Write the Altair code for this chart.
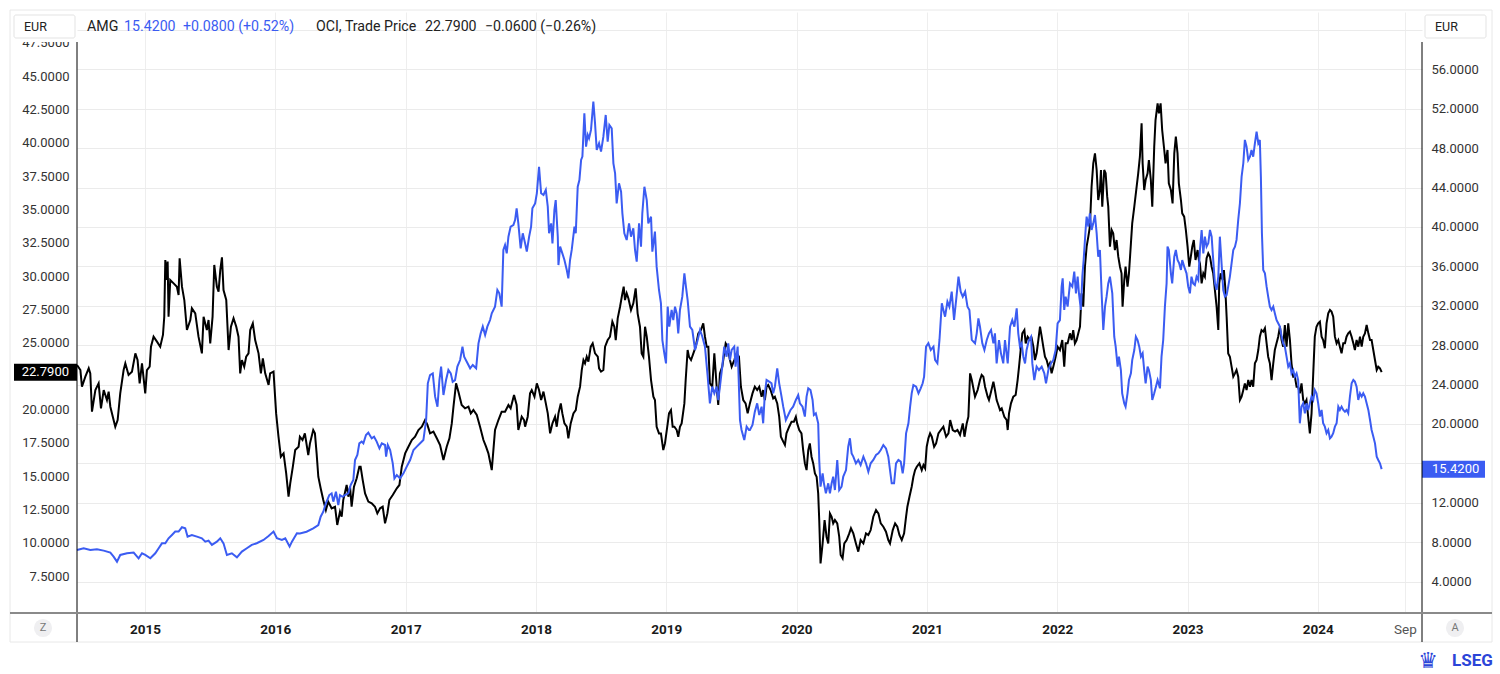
import altair as alt
import pandas as pd

FONT = "Roboto"
BLUE = "#3b5cf2"
INK = "#222222"

# ---- data (decimal year, price) ----
OCI_POINTS = [
(2014.478,23.33),(2014.504,22.95),(2014.516,21.70),(2014.542,22.45),(2014.568,23.08),(2014.580,22.70),(2014.593,19.83),(2014.619,21.45),(2014.644,21.95),(2014.662,20.08),(2014.683,21.45),(2014.708,20.70),(2014.721,21.33),(2014.734,20.20),(2014.759,19.20),(2014.772,18.70),(2014.790,19.20),(2014.810,21.20),(2014.836,22.95),(2014.849,23.45),(2014.874,22.58),(2014.900,22.83),(2014.926,24.20),(2014.943,23.70),(2014.959,21.95),(2014.977,23.45),(2015.002,21.20),(2015.015,22.95),(2015.036,23.20),(2015.046,24.70),(2015.066,25.45),(2015.092,25.08),(2015.117,24.70),(2015.138,25.58),(2015.148,26.95),(2015.156,31.20),(2015.169,29.70),(2015.174,31.08),(2015.181,26.95),(2015.194,29.70),(2015.220,29.45),(2015.245,29.20),(2015.258,28.58),(2015.266,31.33),(2015.284,29.20),(2015.302,28.20),(2015.322,25.95),(2015.348,26.70),(2015.360,27.58),(2015.386,27.20),(2015.411,25.45),(2015.437,24.20),(2015.450,26.95),(2015.475,25.95),(2015.488,26.70),(2015.501,24.95),(2015.519,26.95),(2015.532,30.83),(2015.552,29.20),(2015.565,28.83),(2015.578,30.45),(2015.591,31.40),(2015.603,28.95),(2015.624,28.20),(2015.642,24.45),(2015.660,26.20),(2015.680,26.83),(2015.701,26.20),(2015.718,25.45),(2015.731,22.70),(2015.744,23.70),(2015.762,23.20),(2015.777,23.95),(2015.795,24.20),(2015.808,25.95),(2015.828,26.45),(2015.846,25.20),(2015.872,24.20),(2015.890,22.70),(2015.905,23.83),(2015.923,22.70),(2015.949,21.83),(2015.961,22.70),(2015.987,22.83),(2016.007,19.70),(2016.025,17.95),(2016.043,16.45),(2016.064,16.70),(2016.084,15.20),(2016.102,13.45),(2016.115,14.45),(2016.135,15.70),(2016.153,16.95),(2016.179,17.20),
(2016.189,17.95),(2016.209,17.70),(2016.227,18.20),(2016.253,16.58),(2016.266,17.45),(2016.291,18.45),(2016.304,18.20),(2016.317,16.70),(2016.330,14.95),(2016.348,14.08),(2016.368,13.20),(2016.388,12.45),(2016.406,13.08),(2016.432,12.58),(2016.458,12.70),(2016.475,11.33),(2016.496,12.33),(2016.509,11.95),(2016.521,13.20),(2016.547,14.33),(2016.560,13.45),(2016.573,14.20),(2016.585,12.70),(2016.603,14.20),(2016.624,14.83),(2016.644,15.70),(2016.654,15.70),(2016.670,14.70),(2016.688,13.70),(2016.713,13.08),(2016.739,12.95),(2016.764,12.70),(2016.782,12.20),(2016.803,12.58),(2016.823,12.70),(2016.841,11.45),(2016.859,12.20),(2016.874,13.20),(2016.900,13.58),(2016.931,14.08),(2016.951,14.33),(2016.969,15.70),(2016.995,16.70),(2017.020,17.20),(2017.046,17.70),(2017.071,17.95),(2017.097,18.45),(2017.123,18.70),(2017.148,19.20),(2017.166,18.83),(2017.186,18.20),(2017.212,18.33),(2017.238,17.83),(2017.263,17.33),(2017.289,16.20),(2017.314,17.20),(2017.335,17.83),(2017.353,18.95),(2017.366,20.20),(2017.386,21.95),(2017.404,21.33),(2017.429,20.33),(2017.455,20.08),(2017.481,20.20),(2017.499,19.70),(2017.519,19.95),(2017.545,19.58),(2017.570,18.70),(2017.596,17.70),(2017.616,17.20),(2017.634,16.70),(2017.660,15.45),(2017.685,18.45),(2017.711,19.20),(2017.736,19.83),(2017.762,19.83),(2017.788,20.33),(2017.805,20.08),(2017.831,21.08),(2017.851,20.33),(2017.864,18.45),(2017.890,19.45),(2017.908,19.20),
(2017.916,18.70),(2017.936,19.45),(2017.954,21.20),(2017.967,21.45),(2017.988,20.95),(2018.006,21.95),(2018.023,21.45),(2018.039,20.70),(2018.057,21.33),(2018.075,20.45),(2018.090,19.70),(2018.108,18.20),(2018.126,18.95),(2018.146,19.45),(2018.159,18.70),(2018.172,19.70),(2018.190,20.45),(2018.202,19.70),(2018.218,18.95),(2018.236,18.70),(2018.248,17.83),(2018.266,18.95),(2018.287,19.70),(2018.305,19.95),(2018.320,20.95),(2018.338,21.70),(2018.351,22.95),(2018.364,23.70),(2018.376,23.45),(2018.389,23.95),(2018.402,23.58),(2018.420,24.70),(2018.435,24.95),(2018.453,24.20),(2018.474,23.95),(2018.484,23.08),(2018.499,22.83),(2018.517,22.95),(2018.530,24.70),(2018.550,25.20),(2018.568,25.45),(2018.586,26.58),(2018.601,26.20),(2018.612,25.20),(2018.627,26.83),(2018.645,27.70),(2018.663,28.70),(2018.673,29.20),(2018.683,28.20),(2018.696,28.70),(2018.709,28.33),(2018.729,27.45),(2018.747,27.95),(2018.765,29.08),(2018.780,27.20),(2018.798,26.20),(2018.811,24.20),(2018.824,23.95),(2018.837,26.20),(2018.850,25.45),(2018.867,23.95),(2018.883,22.20),(2018.901,20.95),(2018.913,20.70),(2018.926,18.70),(2018.944,18.20),(2018.959,18.20),(2018.977,16.95),(2018.990,17.45),(2019.011,18.95),(2019.021,19.70),(2019.036,19.95),(2019.049,18.70),(2019.062,18.70),(2019.080,18.45),(2019.092,17.95),(2019.105,18.70),(2019.118,18.95),(2019.139,20.45),(2019.149,22.20),(2019.164,24.45),(2019.174,23.95),(2019.190,23.70),(2019.208,24.20),(2019.226,24.70),(2019.246,25.70),(2019.266,25.95),(2019.284,26.45),(2019.297,25.45),(2019.310,24.70),(2019.323,24.70),(2019.335,21.95),(2019.353,21.70),(2019.369,24.20),(2019.387,21.70),(2019.399,20.33),(2019.412,22.70),(2019.430,23.20),(2019.445,24.20),(2019.456,24.95),(2019.471,24.70),(2019.489,23.70),(2019.502,23.20),(2019.522,23.70),(2019.540,24.20),(2019.558,23.95),(2019.573,21.70),(2019.591,20.70),(2019.609,20.45),(2019.625,19.70),
(2019.642,20.45),(2019.662,21.20),(2019.680,21.70),(2019.698,21.45),(2019.714,21.70),(2019.732,20.95),(2019.744,21.45),(2019.757,20.70),(2019.770,21.70),(2019.783,21.83),(2019.801,21.45),(2019.821,20.83),(2019.834,20.95),(2019.852,20.45),(2019.867,19.45),(2019.880,17.95),(2019.898,17.58),(2019.911,17.33),(2019.923,18.20),(2019.944,18.70),(2019.962,19.08),(2019.980,19.08),(2019.995,19.45),(2020.005,18.95),(2020.021,18.45),(2020.038,18.20),(2020.051,16.95),(2020.064,15.95),(2020.077,15.45),(2020.090,16.95),(2020.102,17.45),(2020.115,16.45),(2020.128,15.95),(2020.141,15.20),(2020.154,14.95),(2020.166,13.70),(2020.174,11.70),(2020.184,8.45),(2020.200,9.95),(2020.215,11.70),(2020.230,10.45),(2020.243,9.95),(2020.256,12.20),(2020.269,11.95),(2020.281,11.45),(2020.294,11.70),(2020.312,11.45),(2020.327,10.45),(2020.338,9.08),(2020.353,8.83),(2020.366,9.95),(2020.384,10.20),(2020.404,10.70),(2020.417,11.08),(2020.435,10.70),(2020.455,9.95),(2020.473,9.33),(2020.491,10.20),(2020.512,9.95),(2020.532,10.70),(2020.550,10.58),(2020.568,10.95),(2020.588,11.95),(2020.609,12.45),(2020.627,12.20),(2020.645,11.45),(2020.665,11.20),(2020.685,10.83),(2020.703,10.20),(2020.716,9.95),(2020.737,10.95),(2020.755,11.45),(2020.772,11.20),(2020.788,10.58),(2020.806,10.20),(2020.824,10.70),(2020.839,11.95),(2020.849,12.70),(2020.865,13.45),(2020.882,14.20),(2020.895,14.95),(2020.908,15.45),(2020.921,15.70),(2020.941,15.95),(2020.959,15.45),(2020.972,15.83),(2020.985,15.58),(2020.997,17.20),(2021.010,17.83),(2021.023,18.20),(2021.036,17.95),(2021.054,17.20),(2021.069,17.45),(2021.087,18.20),(2021.105,18.45),(2021.125,18.70),(2021.146,17.95),(2021.164,18.20),(2021.177,19.20),(2021.197,18.45),(2021.215,18.33),(2021.233,18.45),(2021.253,18.08),(2021.274,18.95),(2021.287,17.95),(2021.304,18.95),(2021.317,19.45),(2021.330,22.70),(2021.343,22.20),
(2021.368,20.95),(2021.388,21.45),(2021.406,22.20),(2021.419,22.58),(2021.432,22.45),(2021.445,21.70),(2021.465,20.95),(2021.475,20.70),(2021.491,21.33),(2021.509,22.08),(2021.521,21.45),(2021.534,20.70),(2021.547,20.33),(2021.560,19.95),(2021.573,20.08),(2021.593,19.45),(2021.611,19.20),(2021.619,18.45),(2021.629,19.70),(2021.644,20.45),(2021.662,20.95),(2021.680,21.08),(2021.695,22.20),(2021.706,23.20),(2021.721,24.70),(2021.731,25.70),(2021.747,25.95),(2021.757,24.95),(2021.772,25.45),(2021.790,25.20),(2021.803,25.33),(2021.816,24.70),(2021.828,23.70),(2021.841,24.20),(2021.854,25.20),(2021.867,26.20),(2021.880,25.45),(2021.892,24.70),(2021.905,23.95),(2021.918,23.70),(2021.931,23.20),(2021.943,23.45),(2021.956,22.70),(2021.969,23.20),(2021.987,23.95),(2022.002,24.70),(2022.020,24.45),(2022.038,25.20),(2022.053,23.20),(2022.064,24.95),(2022.079,24.95),(2022.097,25.70),(2022.110,25.20),(2022.122,25.95),(2022.135,24.95),(2022.148,25.20),(2022.161,25.70),(2022.174,26.20),(2022.186,28.70),(2022.199,27.70),(2022.212,30.70),(2022.225,32.20),(2022.238,32.95),(2022.250,33.70),(2022.263,36.70),(2022.276,38.45),(2022.289,39.20),(2022.302,37.95),(2022.314,35.70),(2022.327,36.45),(2022.335,37.95),(2022.345,35.20),(2022.360,37.95),(2022.371,37.70),(2022.383,35.95),(2022.391,35.20),(2022.404,32.20),(2022.417,33.45),(2022.429,33.20),(2022.442,31.95),(2022.455,32.70),(2022.468,31.45),(2022.481,30.70),(2022.493,30.20),(2022.501,27.70),(2022.514,29.70),(2022.524,30.70),(2022.539,29.20),(2022.550,30.20),(2022.565,32.45),(2022.575,33.95),(2022.591,35.20),(2022.609,36.70),(2022.621,37.70),(2022.634,38.95),(2022.647,41.45),(2022.655,38.45),(2022.667,36.45),(2022.678,37.20),(2022.693,37.70),(2022.703,38.70),(2022.718,37.20),(2022.729,35.20),(2022.744,39.70),(2022.754,41.70),(2022.770,42.95),(2022.780,42.20),(2022.793,42.95),(2022.805,40.95),(2022.821,39.45),(2022.831,38.45),(2022.846,39.45),(2022.856,36.95),(2022.872,36.45),(2022.885,35.45),(2022.898,39.20),(2022.910,40.45),(2022.923,39.20),(2022.933,36.95),(2022.949,35.70),(2022.959,34.70),(2022.974,34.45),(2022.987,33.45),(2023.000,32.20),(2023.013,30.70),(2023.025,31.45),(2023.036,32.20),(2023.048,32.70),(2023.061,31.20),(2023.077,31.95),(2023.087,31.20),
(2023.095,30.95),(2023.108,29.45),(2023.121,30.20),(2023.133,29.95),(2023.146,31.33),(2023.159,31.70),(2023.172,31.45),(2023.185,30.70),(2023.197,30.20),(2023.210,28.95),(2023.223,27.70),(2023.236,25.95),(2023.243,29.45),(2023.254,30.20),(2023.269,29.70),(2023.279,30.45),(2023.289,29.20),(2023.300,26.95),(2023.312,24.20),(2023.325,23.95),(2023.338,23.20),(2023.351,22.45),(2023.364,22.70),(2023.376,22.95),(2023.389,22.45),(2023.402,20.70),(2023.415,20.95),(2023.428,21.45),(2023.440,21.95),(2023.453,21.45),(2023.466,22.20),(2023.479,21.70),(2023.491,22.20),(2023.504,21.70),(2023.517,23.45),(2023.530,23.70),(2023.543,24.45),(2023.555,25.45),(2023.568,25.95),(2023.581,25.83),(2023.594,26.08),(2023.607,24.95),(2023.619,23.95),(2023.632,23.45),(2023.645,22.20),(2023.658,23.45),(2023.670,24.45),(2023.683,24.95),(2023.696,25.45),(2023.709,26.20),(2023.722,25.20),(2023.734,24.70),(2023.747,26.33),(2023.760,24.70),(2023.773,26.45),(2023.786,25.20),(2023.798,23.45),(2023.811,22.45),(2023.824,22.45),(2023.837,21.70),(2023.849,21.70),(2023.862,21.20),(2023.875,21.95),(2023.888,20.70),(2023.901,20.45),(2023.913,20.70),(2023.926,19.45),(2023.939,18.20),(2023.952,19.70),(2023.965,22.70),(2023.977,25.45),(2023.990,26.20),(2024.003,26.45),(2024.016,26.58),(2024.029,25.45),(2024.041,25.20),(2024.054,24.58),(2024.067,26.45),(2024.080,27.20),(2024.093,27.45),(2024.105,27.33),(2024.118,26.95),(2024.131,25.45),(2024.144,24.95),(2024.157,25.20),(2024.169,24.70),(2024.182,24.20),(2024.195,24.95),(2024.208,24.95),(2024.220,25.45),(2024.233,25.70),(2024.246,25.83),(2024.259,25.45),(2024.272,24.95),(2024.284,24.45),(2024.297,25.20),(2024.310,24.70),(2024.323,25.45),(2024.336,24.70),(2024.348,25.45),(2024.361,25.70),(2024.374,26.33),(2024.387,25.70),(2024.400,25.20),(2024.412,25.20),(2024.425,24.45),(2024.438,23.70),(2024.451,22.95),(2024.463,23.20),(2024.476,23.08),(2024.489,22.79),
]

AMG_POINTS = [
(2014.478,7.22),(2014.529,7.39),(2014.580,7.22),(2014.631,7.29),(2014.683,7.15),(2014.734,6.95),(2014.759,6.54),(2014.785,6.03),(2014.810,6.71),(2014.862,6.88),(2014.913,6.95),(2014.951,6.37),(2014.977,6.88),(2015.002,6.71),(2015.041,6.37),(2015.079,6.88),(2015.105,7.39),(2015.130,7.89),(2015.156,7.89),(2015.181,8.40),(2015.207,8.74),(2015.232,9.08),(2015.258,9.08),(2015.284,9.52),(2015.309,9.42),(2015.327,8.57),(2015.360,8.74),(2015.399,8.57),(2015.437,8.40),(2015.463,8.06),(2015.488,8.17),(2015.514,7.73),(2015.552,8.06),(2015.578,8.40),(2015.603,7.89),(2015.629,6.71),(2015.667,6.88),(2015.706,6.47),(2015.744,7.05),(2015.782,7.39),(2015.820,7.73),(2015.858,7.90),(2015.910,8.23),(2015.949,8.64),(2015.987,9.08),(2016.013,8.40),(2016.051,8.23),(2016.077,8.40),(2016.110,7.56),(2016.128,8.06),(2016.166,8.91),
(2016.189,8.90),(2016.240,9.07),(2016.291,9.41),(2016.330,9.75),(2016.348,10.59),(2016.368,11.10),(2016.388,11.95),(2016.414,12.79),(2016.432,12.96),(2016.445,12.12),(2016.465,13.13),(2016.483,11.78),(2016.496,12.79),(2016.516,12.62),(2016.534,12.79),(2016.560,12.96),(2016.578,13.81),(2016.598,14.31),(2016.611,16.34),(2016.629,16.85),(2016.644,18.04),(2016.662,18.21),(2016.675,18.04),(2016.695,18.88),(2016.713,19.12),(2016.739,18.54),(2016.757,18.71),(2016.777,18.21),(2016.798,17.53),(2016.816,18.04),(2016.841,17.87),(2016.849,16.68),(2016.862,17.87),(2016.880,17.36),(2016.900,16.01),(2016.913,14.48),(2016.931,14.82),(2016.956,14.48),(2016.982,14.99),(2017.007,15.67),(2017.033,16.34),(2017.059,17.36),(2017.084,17.70),(2017.110,18.04),(2017.135,18.37),(2017.156,20.40),(2017.169,24.13),(2017.186,24.97),(2017.207,25.14),(2017.225,22.77),(2017.243,21.76),(2017.258,24.46),(2017.271,25.82),(2017.289,22.94),(2017.309,24.46),(2017.327,25.48),(2017.345,25.14),(2017.360,24.29),(2017.378,24.46),(2017.396,25.82),(2017.417,26.49),(2017.435,27.85),(2017.448,26.83),(2017.468,26.32),(2017.494,25.65),(2017.514,25.99),(2017.540,25.65),(2017.558,28.18),(2017.575,29.20),(2017.591,29.88),(2017.609,29.03),(2017.626,29.88),(2017.647,30.55),(2017.660,31.23),(2017.685,31.91),(2017.703,33.60),(2017.718,33.26),(2017.736,31.91),(2017.749,37.66),(2017.762,38.16),(2017.775,37.32),(2017.788,39.01),(2017.805,40.03),(2017.826,40.19),(2017.839,40.70),(2017.851,41.89),(2017.864,40.36),(2017.882,37.83),(2017.898,39.35),
(2017.916,38.33),(2017.929,37.49),(2017.947,39.01),(2017.962,40.03),(2017.972,41.89),(2017.993,42.39),(2018.006,43.41),(2018.023,46.11),(2018.039,43.41),(2018.057,43.24),(2018.075,43.75),(2018.090,42.06),(2018.100,39.35),(2018.116,40.36),(2018.126,38.33),(2018.141,41.72),(2018.151,42.73),(2018.167,39.01),(2018.172,36.13),(2018.185,38.00),(2018.202,37.32),(2018.218,36.64),(2018.236,35.63),(2018.248,34.78),(2018.261,36.64),(2018.274,37.66),(2018.295,40.03),(2018.305,39.35),(2018.320,44.08),(2018.333,44.76),(2018.346,46.79),(2018.356,47.13),(2018.371,51.53),(2018.384,48.15),(2018.397,49.33),(2018.407,48.99),(2018.422,49.84),(2018.440,52.71),(2018.453,50.51),(2018.466,47.81),(2018.484,48.48),(2018.499,47.64),(2018.517,49.16),(2018.535,51.36),(2018.550,48.65),(2018.563,50.34),(2018.581,50.00),(2018.594,46.45),(2018.607,45.44),(2018.619,42.39),(2018.637,44.42),(2018.653,43.58),(2018.663,41.38),(2018.678,39.35),(2018.696,38.67),(2018.714,40.36),(2018.729,39.01),(2018.747,39.86),(2018.760,37.66),(2018.773,36.47),(2018.791,40.36),(2018.806,38.00),(2018.816,41.38),(2018.832,44.08),(2018.850,42.73),(2018.862,40.36),(2018.883,41.04),(2018.893,37.49),(2018.913,39.52),(2018.926,35.97),(2018.944,33.60),(2018.959,32.24),(2018.970,28.52),(2018.985,27.17),(2018.998,26.15),(2019.011,31.91),(2019.023,29.88),(2019.041,31.57),(2019.054,30.55),(2019.067,31.91),(2019.080,31.23),(2019.092,29.20),(2019.105,31.57),(2019.123,32.92),(2019.139,35.29),(2019.151,33.94),(2019.164,32.58),(2019.182,29.88),(2019.200,29.54),(2019.221,27.51),(2019.241,28.52),(2019.259,29.54),(2019.277,28.86),(2019.297,27.85),(2019.318,24.80),(2019.335,22.09),(2019.353,23.79),(2019.369,23.11),(2019.387,23.79),(2019.399,22.43),(2019.412,23.79),(2019.430,25.82),(2019.445,27.85),(2019.463,26.83),(2019.476,28.18),(2019.489,26.49),(2019.502,27.51),(2019.522,27.85),(2019.532,25.82),(2019.548,27.85),(2019.566,20.40),(2019.578,19.39),(2019.599,18.37),(2019.617,19.73),(2019.635,19.39),
(2019.642,19.39),(2019.662,19.90),(2019.680,21.25),(2019.698,22.10),(2019.714,20.91),(2019.732,21.76),(2019.744,20.07),(2019.757,23.11),(2019.770,24.47),(2019.790,24.30),(2019.808,24.13),(2019.821,23.11),(2019.834,23.79),(2019.852,25.65),(2019.867,24.13),(2019.885,22.78),(2019.898,21.76),(2019.918,20.41),(2019.936,20.91),(2019.954,21.42),(2019.974,21.76),(2019.995,22.44),(2020.013,22.94),(2020.026,22.10),(2020.046,21.76),(2020.064,20.75),(2020.077,22.78),(2020.090,23.62),(2020.107,23.45),(2020.123,22.44),(2020.133,20.91),(2020.148,21.08),(2020.166,20.07),(2020.174,16.35),(2020.184,13.64),(2020.200,14.99),(2020.210,13.98),(2020.225,12.96),(2020.243,13.98),(2020.256,12.96),(2020.269,13.98),(2020.281,14.66),(2020.294,13.30),(2020.312,16.35),(2020.327,13.30),(2020.345,13.64),(2020.358,14.66),(2020.379,15.33),(2020.396,17.70),(2020.409,18.55),(2020.422,17.02),(2020.435,16.69),(2020.455,16.01),(2020.473,16.35),(2020.491,15.84),(2020.512,16.69),(2020.532,16.01),(2020.550,15.16),(2020.568,16.01),(2020.588,16.35),(2020.609,16.86),(2020.627,17.02),(2020.645,17.36),(2020.665,17.87),(2020.685,17.53),(2020.703,16.69),(2020.716,15.33),(2020.729,13.98),(2020.747,13.98),(2020.762,16.01),(2020.780,16.35),(2020.798,16.18),(2020.813,14.99),(2020.824,16.01),(2020.839,19.05),(2020.857,20.07),(2020.870,21.76),(2020.882,23.11),(2020.895,23.96),(2020.916,23.79),(2020.934,23.11),(2020.951,23.62),(2020.966,24.13),(2020.977,24.81),(2020.992,27.85),(2021.010,28.19),(2021.028,27.51),(2021.049,27.85),(2021.061,26.50),(2021.079,26.16),(2021.095,28.53),(2021.113,32.25),(2021.125,31.57),(2021.138,30.89),(2021.156,32.42),(2021.171,31.91),(2021.189,33.43),(2021.207,30.56),(2021.223,32.59),(2021.241,34.95),(2021.258,33.43),(2021.274,32.92),(2021.292,33.43),(2021.310,31.91),(2021.325,31.57),(2021.343,28.53),
(2021.368,28.18),(2021.381,29.20),(2021.394,30.72),(2021.406,29.88),(2021.424,28.18),(2021.440,27.51),(2021.458,28.52),(2021.475,29.20),(2021.491,29.54),(2021.509,28.18),(2021.521,29.20),(2021.534,26.15),(2021.552,28.52),(2021.567,27.17),(2021.585,26.15),(2021.598,28.52),(2021.619,26.15),(2021.637,29.88),(2021.654,30.55),(2021.670,29.88),(2021.688,31.74),(2021.700,29.20),(2021.713,27.85),(2021.726,28.18),(2021.739,26.83),(2021.752,26.15),(2021.764,27.51),(2021.782,28.52),(2021.798,28.86),(2021.808,26.15),(2021.823,24.46),(2021.841,25.82),(2021.859,25.48),(2021.880,25.82),(2021.900,25.14),(2021.913,24.13),(2021.931,25.48),(2021.951,26.15),(2021.969,26.49),(2021.987,27.51),(2022.002,30.21),(2022.020,30.55),(2022.033,33.94),(2022.041,34.78),(2022.053,31.57),(2022.064,32.92),(2022.079,31.91),(2022.097,34.27),(2022.115,33.94),(2022.130,35.46),(2022.143,33.26),(2022.156,34.95),(2022.166,33.26),(2022.181,31.57),(2022.192,34.95),(2022.202,36.64),(2022.217,39.69),(2022.225,41.04),(2022.238,40.03),(2022.250,41.38),(2022.263,39.69),(2022.276,40.36),(2022.289,41.21),(2022.302,39.35),(2022.314,36.98),(2022.327,37.66),(2022.340,33.26),(2022.353,29.54),(2022.366,31.91),(2022.378,32.92),(2022.391,34.27),(2022.404,34.95),(2022.422,33.26),(2022.437,28.86),(2022.448,27.85),(2022.463,25.82),(2022.473,26.83),(2022.488,25.48),(2022.498,23.11),(2022.514,22.09),(2022.524,21.76),(2022.539,23.11),(2022.550,24.46),(2022.565,25.14),(2022.575,26.49),(2022.591,27.51),(2022.603,28.86),(2022.616,28.52),(2022.629,27.85),(2022.642,26.83),(2022.655,27.17),(2022.667,25.48),(2022.678,24.13),(2022.693,25.82),(2022.703,25.48),(2022.718,24.46),(2022.729,22.43),(2022.744,23.11),(2022.757,23.79),(2022.770,24.46),(2022.788,23.62),(2022.800,26.83),(2022.813,28.52),(2022.826,31.91),(2022.839,34.27),(2022.846,38.00),(2022.856,37.66),(2022.872,35.29),(2022.882,34.27),(2022.898,36.98),(2022.910,37.66),(2022.923,36.64),(2022.936,36.30),(2022.949,35.63),(2022.959,36.64),(2022.974,35.97),(2022.992,35.29),(2023.005,33.94),(2023.018,33.26),(2023.030,34.95),(2023.043,34.27),(2023.056,34.10),(2023.069,34.95),(2023.082,34.61),
(2023.095,37.66),(2023.108,39.69),(2023.121,37.32),(2023.133,39.01),(2023.146,38.00),(2023.159,38.34),(2023.172,39.69),(2023.185,39.01),(2023.197,36.65),(2023.210,34.28),(2023.223,33.60),(2023.236,34.96),(2023.248,39.01),(2023.261,36.31),(2023.274,33.60),(2023.287,32.93),(2023.300,33.10),(2023.312,33.94),(2023.325,34.96),(2023.338,36.31),(2023.351,37.66),(2023.364,38.00),(2023.376,38.68),(2023.389,40.71),(2023.402,42.40),(2023.415,45.10),(2023.428,46.46),(2023.440,48.83),(2023.453,48.15),(2023.466,46.80),(2023.479,47.13),(2023.491,47.81),(2023.504,47.13),(2023.517,48.49),(2023.530,49.67),(2023.543,48.49),(2023.555,48.83),(2023.563,45.10),(2023.571,39.35),(2023.581,35.63),(2023.594,35.29),(2023.607,33.94),(2023.619,32.93),(2023.632,31.91),(2023.645,31.57),(2023.658,31.91),(2023.670,31.23),(2023.683,30.56),(2023.696,30.22),(2023.709,29.88),(2023.722,28.87),(2023.734,28.19),(2023.747,27.85),(2023.760,26.84),(2023.773,25.82),(2023.786,26.16),(2023.798,25.14),(2023.811,25.48),(2023.824,24.81),(2023.837,25.14),(2023.849,24.47),(2023.862,20.07),(2023.875,21.76),(2023.888,22.10),(2023.901,21.09),(2023.913,22.10),(2023.926,21.43),(2023.939,22.10),(2023.952,22.78),(2023.965,22.44),(2023.977,23.45),(2023.990,23.11),(2024.003,22.10),(2024.016,20.75),(2024.029,21.43),(2024.041,20.07),(2024.054,19.73),(2024.067,19.06),(2024.080,19.39),(2024.093,18.55),(2024.105,18.72),(2024.118,19.06),(2024.131,19.73),(2024.144,20.07),(2024.157,21.76),(2024.169,21.43),(2024.182,21.76),(2024.195,21.43),(2024.208,21.25),(2024.220,21.43),(2024.233,21.09),(2024.246,22.78),(2024.259,24.13),(2024.272,24.47),(2024.284,24.30),(2024.297,23.79),(2024.310,22.44),(2024.323,23.11),(2024.336,22.78),(2024.348,23.11),(2024.361,22.78),(2024.374,22.10),(2024.387,21.43),(2024.400,20.41),(2024.412,19.39),(2024.425,18.72),(2024.438,18.04),(2024.451,16.69),(2024.463,16.35),(2024.476,16.01),(2024.489,15.42),
]

OCI_LAST, OCI_CHG, OCI_PCT = 22.79, -0.06, -0.26
AMG_LAST, AMG_CHG, AMG_PCT = 15.42, 0.08, 0.52
LEFT_TICKS = [7.5 + 2.5 * i for i in range(17)]
RIGHT_TICKS = [4 * i for i in range(1, 16)]
YEAR_TICKS = list(range(2015, 2025))
X_RANGE_YEARS = [2014.478, 2024.798]
OCI_DOMAIN = [4.73, 49.80]
AMG_DOMAIN = [0.82, 61.81]


def to_ts(y):
    yi = int(y)
    a = pd.Timestamp(year=yi, month=1, day=1)
    b = pd.Timestamp(year=yi + 1, month=1, day=1)
    return a + (b - a) * (y - yi)


def to_dt(ts):
    return alt.DateTime(year=ts.year, month=ts.month, date=ts.day, hours=ts.hour)


def frame(points):
    return pd.DataFrame({
        "date": [to_ts(p[0]).strftime("%Y-%m-%dT%H:%M:%S") for p in points],
        "v": [p[1] for p in points],
    })


oci_df = frame(OCI_POINTS)
amg_df = frame(AMG_POINTS)
oci_last = pd.DataFrame({"v": [OCI_LAST]})
amg_last = pd.DataFrame({"v": [AMG_LAST]})
one = pd.DataFrame({"k": [0]})

is_year = "month(datum.value) == 0"
x_axis = alt.Axis(
    values=[alt.DateTime(year=y, month=1, date=1) for y in YEAR_TICKS] + [alt.DateTime(year=2024, month=9, date=1)],
    labelExpr="month(datum.value) == 0 ? timeFormat(datum.value, '%Y') : timeFormat(datum.value, '%b')",
    labelFontWeight={"condition": {"test": is_year, "value": "bold"}, "value": "normal"},
    labelColor={"condition": {"test": is_year, "value": "#1a1a1a"}, "value": "#555555"},
    labelFont=FONT, labelFontSize=13.5, labelPadding=9, labelFlush=False, labelOverlap=False,
    grid=True, gridColor="#eeeeee", domain=False, ticks=False, title=None,
)
x_enc = alt.X("date:T", scale=alt.Scale(domain=[to_dt(to_ts(X_RANGE_YEARS[0])), to_dt(to_ts(X_RANGE_YEARS[1]))]), axis=x_axis, title=None)

# labels hidden behind the last-value boxes (as in the reference)
left_axis = alt.Axis(orient="left", values=LEFT_TICKS,
                     labelExpr=f"abs(datum.value - {OCI_LAST}) < 1.2 ? '' : format(datum.value, '.4f')",
                     grid=False, domain=False, ticks=False,
                     labelPadding=8, labelFont=FONT, labelFontSize=13, labelColor="#333333", title=None)
right_axis = alt.Axis(orient="right", values=RIGHT_TICKS,
                      labelExpr=f"datum.value > 57 || abs(datum.value - {AMG_LAST}) < 1.6 ? '' : format(datum.value, '.4f')",
                      grid=True, gridColor="#ebebeb", domain=False, ticks=False,
                      labelPadding=9, labelFont=FONT, labelFontSize=13, labelColor="#333333", title=None)
oci_y = alt.Y("v:Q", scale=alt.Scale(domain=OCI_DOMAIN, nice=False, zero=False), axis=left_axis, title=None)
amg_y = alt.Y("v:Q", scale=alt.Scale(domain=AMG_DOMAIN, nice=False, zero=False), axis=right_axis, title=None)

oci_line = alt.Chart(oci_df).mark_line(color="black", strokeWidth=2).encode(x=x_enc, y=oci_y)
oci_box = alt.Chart(oci_last).mark_tick(orient="horizontal", size=63, thickness=17, color="black", opacity=1).encode(x=alt.value(-31.5), y=oci_y)
oci_txt = alt.Chart(oci_last).mark_text(align="right", baseline="middle", color="white", font=FONT, fontSize=13).encode(
    x=alt.value(-8), y=oci_y, text=alt.Text("v:Q", format=".4f"))
left = alt.layer(oci_line, oci_box, oci_txt)

amg_line = alt.Chart(amg_df).mark_line(color=BLUE, strokeWidth=2).encode(x=x_enc, y=amg_y)
amg_box = alt.Chart(amg_last).mark_tick(orient="horizontal", size=63, thickness=17, color=BLUE, opacity=1).encode(x=alt.value(1376.5), y=amg_y)
amg_txt = alt.Chart(amg_last).mark_text(align="left", baseline="middle", color="white", font=FONT, fontSize=13).encode(
    x=alt.value(1355), y=amg_y, text=alt.Text("v:Q", format=".4f"))
right = alt.layer(amg_line, amg_box, amg_txt)


def rect(x, x2, y, y2, fill="white", stroke=None, fill_opacity=1, radius=0):
    kw = dict(fill=fill, fillOpacity=fill_opacity, cornerRadius=radius)
    if stroke:
        kw.update(stroke=stroke, strokeWidth=1)
    return alt.Chart(one).mark_rect(**kw).encode(x=alt.value(x), x2=alt.value(x2), y=alt.value(y), y2=alt.value(y2))


def text(x, y, s, size=14.2, color=INK, align="left", weight="normal", font=FONT):
    return alt.Chart(one).mark_text(text=s, align=align, baseline="middle", font=font, fontSize=size,
                                    color=color, fontWeight=weight).encode(x=alt.value(x), y=alt.value(y))


def rule(x, x2, y, y2, color, width):
    return alt.Chart(one).mark_rule(color=color, strokeWidth=width).encode(
        x=alt.value(x), x2=alt.value(x2), y=alt.value(y), y2=alt.value(y2))


def dot(x, y, color, size):
    return alt.Chart(one).mark_circle(color=color, size=size, opacity=1).encode(x=alt.value(x), y=alt.value(y))


def signed(v, fmt):
    s = format(abs(v), fmt)
    return ("+" if v >= 0 else "\u2212") + s


amg_head = f"{signed(AMG_CHG, '.4f')} ({signed(AMG_PCT, '.2f')}%)"
oci_head = f"{signed(OCI_CHG, '.4f')} ({signed(OCI_PCT, '.2f')}%)"

decos = [
    rect(-67, 1415, -2, 630, fill="white", stroke="#e8e8e8", fill_opacity=0),
    rect(-66, -1, -1, 30, fill="white"),
    rule(0, 0, 30, 630, "black", 1),
    rule(1345, 1345, 30, 630, "black", 1),
    rule(-67, 1415, 601, 601, "#8a8a8a", 2),
    rect(-63, -2, 3, 26, fill="white", stroke="#e3e3e3", radius=2),
    text(-53, 14.5, "EUR", size=12.5),
    rect(1348, 1409, 3, 26, fill="white", stroke="#e3e3e3", radius=2),
    text(1358, 14.5, "EUR", size=12.5),
    text(10, 15, "AMG"),
    text(47, 15, f"{AMG_LAST:.4f}", color=BLUE),
    text(106, 15, amg_head, color=BLUE),
    text(239, 15, "OCI, Trade Price"),
    text(348, 15, f"{OCI_LAST:.4f}"),
    text(408, 15, oci_head),
    dot(-34, 616, "#efeff1", 330),
    text(-34, 616, "Z", size=11, color="#777777", align="center"),
    dot(1378, 616, "#efeff1", 330),
    text(1378, 616, "A", size=11, color="#777777", align="center"),
    text(1351, 649, "\u265b", size=22, color="#2b45d8", align="center", font="DejaVu Sans"),
    text(1375, 649, "LSEG", size=17, color="#2b45d8", weight="bold"),
]

chart = alt.layer(left, right, *decos).resolve_scale(y="independent").properties(
    width=1345, height=601,
    autosize=alt.AutoSizeParams(type="none"),
    padding={"left": 77, "top": 12, "right": 78, "bottom": 61},
    background="white",
).configure_view(stroke=None)

chart.save("out.html", embed_options={"renderer": "svg", "actions": False})
